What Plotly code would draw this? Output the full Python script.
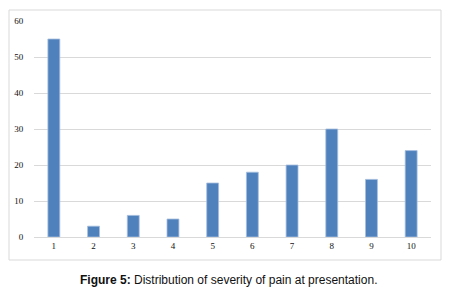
import plotly.graph_objects as go

categories = ["1", "2", "3", "4", "5", "6", "7", "8", "9", "10"]
values = [55, 3, 6, 5, 15, 18, 20, 30, 16, 24]
y_ticks = [0, 10, 20, 30, 40, 50, 60]
caption_bold = "Figure 5:"
caption_text = " Distribution of severity of pain at presentation."

fig = go.Figure()
fig.add_trace(go.Bar(
    x=categories, y=values,
    marker=dict(color="#4f81bd", line=dict(color="#a7bfe0", width=0.8)),
    width=0.3,
))

OFF = 8  # default page body margin
W, H = 463 - OFF, 291 - OFF
l, t = 34 - OFF, 21 - OFF
r = W - (431 - OFF)
b = H - (237 - OFF)
pw, ph = W - l - r, H - t - b

def px_x(x):
    return (x - OFF - l) / pw

def px_y(y):
    return (H - b - (y - OFF)) / ph

fig.add_shape(type="rect", xref="paper", yref="paper",
              x0=px_x(9), x1=px_x(441), y0=px_y(260), y1=px_y(10),
              line=dict(color="#d9d9d9", width=1), layer="below")

fig.add_annotation(xref="paper", yref="paper", x=px_x(228), y=px_y(280),
                   text="<b>" + caption_bold + "</b>" + caption_text,
                   showarrow=False, xanchor="center", yanchor="middle",
                   font=dict(family="Liberation Sans, Arial", size=12, color="#111111"))

fig.update_layout(
    width=W, height=H,
    margin=dict(l=l, r=r, t=t, b=b, autoexpand=False),
    paper_bgcolor="white", plot_bgcolor="white",
    showlegend=False,
    bargap=0.7,
    font=dict(family="Liberation Serif, Times New Roman", size=9, color="#111111"),
)
fig.update_xaxes(type="category", showgrid=False, showline=True, linecolor="#d9d9d9",
                 linewidth=1, ticks="", tickfont=dict(size=9), automargin=False)
fig.update_yaxes(range=[0, 60], tickvals=y_ticks, showgrid=True, gridcolor="#d9d9d9",
                 gridwidth=1, zeroline=False, showline=False, ticks="outside",
                 ticklen=8, tickcolor="rgba(0,0,0,0)", tickfont=dict(size=9),
                 automargin=False)

fig.write_html("out.html")
